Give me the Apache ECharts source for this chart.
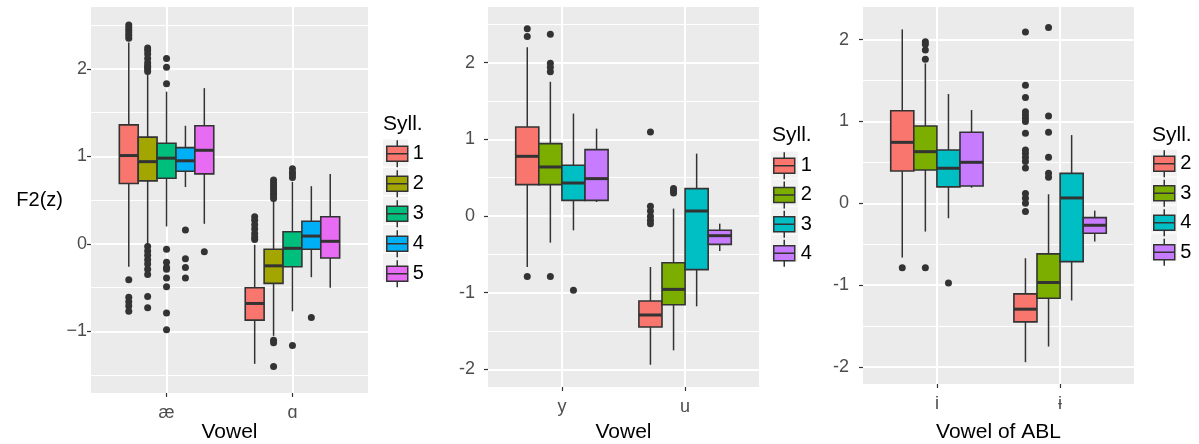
<!DOCTYPE html>
<html>
<head>
<meta charset="utf-8">
<script src="https://cdn.jsdelivr.net/npm/echarts@6/dist/echarts.min.js"></script>
<style>
html,body{margin:0;padding:0;background:#fff;}
#chart{width:1199px;height:444px;}
</style>
</head>
<body>
<div id="chart"></div>
<script>
// ---------------- DATA ----------------
// Box stats per category: [lower whisker, Q1, median, Q3, upper whisker]
// Panel 1: vowels æ / ɑ, syllable 1..5
const p1Categories = ['æ', 'ɑ'];
const p1Groups = ['1', '2', '3', '4', '5'];
const p1Yticks = [-1, 0, 1, 2];
const p1Box1 = [[-0.26, 0.69, 1.01, 1.36, 2.30], [-1.37, -0.87, -0.68, -0.50, -0.01]];
const p1Box2 = [[0.00, 0.72, 0.94, 1.22, 1.93], [-1.05, -0.45, -0.25, -0.06, 0.50]];
const p1Box3 = [[0.20, 0.75, 0.98, 1.15, 1.74], [-0.77, -0.26, -0.05, 0.14, 0.71]];
const p1Box4 = [[0.65, 0.83, 0.95, 1.10, 1.35], [-0.38, -0.06, 0.09, 0.26, 0.66]];
const p1Box5 = [[0.23, 0.80, 1.07, 1.35, 1.78], [-0.50, -0.16, 0.03, 0.31, 0.80]];
// Outliers per category
const p1Out1 = [[2.50, 2.47, 2.44, 2.41, 2.38, 2.35, -0.41, -0.61, -0.66, -0.71, -0.77], [0.31, 0.27, 0.22, 0.17, 0.12, 0.08, 0.05]];
const p1Out2 = [[2.24, 2.21, 2.17, 2.12, 2.07, 2.04, 2.02, 2.00, 1.97, -0.03, -0.08, -0.13, -0.18, -0.23, -0.29, -0.35, -0.60, -0.73], [0.73, 0.70, 0.67, 0.64, 0.61, 0.58, 0.55, 0.52, -1.10, -1.13, -1.40]];
const p1Out3 = [[2.12, 2.02, 1.83, -0.06, -0.21, -0.27, -0.29, -0.39, -0.49, -0.79, -0.98], [0.86, 0.82, 0.79, 0.76, -1.16]];
const p1Out4 = [[0.16, -0.17, -0.27, -0.39], [-0.84]];
const p1Out5 = [[-0.09], []];

// Panel 2: vowels y / u, syllable 1..4
const p2Categories = ['y', 'u'];
const p2Groups = ['1', '2', '3', '4'];
const p2Yticks = [-2, -1, 0, 1, 2];
const p2Box1 = [[-0.665, 0.409, 0.778, 1.161, 2.20], [-1.94, -1.448, -1.291, -1.109, -0.665]];
const p2Box2 = [[-0.348, 0.409, 0.639, 0.943, 1.75], [-1.752, -1.157, -0.957, -0.609, 0.096]];
const p2Box3 = [[-0.187, 0.204, 0.43, 0.661, 1.335], [-1.178, -0.70, 0.065, 0.357, 0.813]];
const p2Box4 = [[0.183, 0.204, 0.487, 0.865, 1.139], [-0.457, -0.37, -0.257, -0.187, -0.10]];
const p2Out1 = [[2.44, 2.34, -0.79], [1.096, 0.126, 0.065, -0.004, -0.057, -0.10]];
const p2Out2 = [[2.37, 1.99, 1.94, 1.88, -0.79], [0.357, 0.33, 0.30]];
const p2Out3 = [[-0.97], []];
const p2Out4 = [[], []];

// Panel 3: vowels of ABL i / ɨ, syllable 2..5
const p3Categories = ['i', 'ɨ'];
const p3Groups = ['2', '3', '4', '5'];
const p3Yticks = [-2, -1, 0, 1, 2];
const p3Box2 = [[-0.664, 0.395, 0.745, 1.132, 2.126], [-1.943, -1.45, -1.295, -1.108, -0.672]];
const p3Box3 = [[-0.346, 0.407, 0.631, 0.945, 1.71], [-1.752, -1.161, -0.969, -0.619, 0.11]];
const p3Box4 = [[-0.183, 0.20, 0.428, 0.652, 1.336], [-1.189, -0.713, 0.065, 0.366, 0.834]];
const p3Box5 = [[0.19, 0.212, 0.501, 0.868, 1.14], [-0.468, -0.367, -0.269, -0.175, -0.09]];
const p3Out2 = [[-0.79], [2.095, 1.444, 1.294, 1.12, 1.08, 1.04, 1.00, 0.855, 0.65, 0.61, 0.56, 0.51, 0.43, 0.12, 0.06, 0.00, -0.10]];
const p3Out3 = [[1.976, 1.943, 1.874, 1.76, -0.79], [2.149, 1.066, 0.867, 0.562, 0.366, 0.317]];
const p3Out4 = [[-0.974], []];
const p3Out5 = [[], []];

// ---------------- STYLE / LAYOUT ----------------
const FONT = "'Liberation Sans', Arial, Helvetica, sans-serif";
const colors5 = ['#F8766D', '#A3A500', '#00BF7D', '#00B0F6', '#E76BF3'];
const colors4 = ['#F8766D', '#7CAE00', '#00BFC4', '#C77CFF'];
const DODGE = 0.75;

const panels = [
  { cats: p1Categories, groups: p1Groups, colors: colors5, yticks: p1Yticks,
    boxes: [p1Box1, p1Box2, p1Box3, p1Box4, p1Box5], outs: [p1Out1, p1Out2, p1Out3, p1Out4, p1Out5],
    grid: { left: 91, top: 7, width: 277, height: 386 }, ymin: -1.703, ymax: 2.707,
    minus: '\u2212', ylabMargin: 4, xname: 'Vowel', xnameGap: 29, yname: 'F2(z)',
    legend: { left: 386, top: 139.5, w: 21, gap: 1.5, bg: 383 }, title: { left: 383, top: 114 } },
  { cats: p2Categories, groups: p2Groups, colors: colors4, yticks: p2Yticks,
    boxes: [p2Box1, p2Box2, p2Box3, p2Box4], outs: [p2Out1, p2Out2, p2Out3, p2Out4],
    grid: { left: 488, top: 7, width: 271, height: 380 }, ymin: -2.23, ymax: 2.725,
    minus: '-', ylabMargin: 13, xname: 'Vowel', xnameGap: 35, yname: '',
    legend: { left: 773, top: 151.5, w: 23, gap: 0.7, bg: 771 }, title: { left: 772, top: 125 } },
  { cats: p3Categories, groups: p3Groups, colors: colors4, yticks: p3Yticks,
    boxes: [p3Box2, p3Box3, p3Box4, p3Box5], outs: [p3Out2, p3Out3, p3Out4, p3Out5],
    grid: { left: 863, top: 7, width: 271, height: 377 }, ymin: -2.21, ymax: 2.40,
    minus: '-', ylabMargin: 14, xname: 'Vowel of ABL', xnameGap: 38, yname: '',
    legend: { left: 1153, top: 149.5, w: 22, gap: 1, bg: 1151 }, title: { left: 1152, top: 125 } }
];

function makeBoxRenderer(boxW, color) {
  return function (params, api) {
    const x = api.value(0);
    const w = api.size([boxW, 0])[0];
    const lo = api.coord([x, api.value(1)]);
    const q1 = api.coord([x, api.value(2)]);
    const md = api.coord([x, api.value(3)]);
    const q3 = api.coord([x, api.value(4)]);
    const hi = api.coord([x, api.value(5)]);
    const cx = q1[0];
    const stroke = '#333333';
    return {
      type: 'group',
      children: [
        { type: 'line', shape: { x1: cx, y1: lo[1], x2: cx, y2: q1[1] }, style: { stroke: stroke, lineWidth: 1.5 } },
        { type: 'line', shape: { x1: cx, y1: q3[1], x2: cx, y2: hi[1] }, style: { stroke: stroke, lineWidth: 1.5 } },
        { type: 'rect', shape: { x: cx - w / 2, y: q3[1], width: w, height: q1[1] - q3[1] },
          style: { fill: color, stroke: stroke, lineWidth: 1.6 } },
        { type: 'line', shape: { x1: cx - w / 2, y1: md[1], x2: cx + w / 2, y2: md[1] }, style: { stroke: stroke, lineWidth: 3 } }
      ]
    };
  };
}

const legendIcon = 'path://M10.5,0L10.5,6M0,6L21,6L21,21L0,21ZM0,13.5L21,13.5M10.5,21L10.5,27';

const grids = [], xAxes = [], yAxes = [], series = [], legends = [], titles = [], graphics = [];

panels.forEach((p, pi) => {
  grids.push(Object.assign({ show: true, backgroundColor: '#EBEBEB', borderWidth: 0, outerBoundsMode: 'none', containLabel: false }, p.grid));
  const minorVals = [];
  for (let v = Math.ceil(p.ymin) - 0.5; v < p.ymax; v += 1) if (v > p.ymin) minorVals.push(v);
  xAxes.push({
    type: 'value', gridIndex: pi, min: 0.4, max: 2.6, position: 'bottom',
    axisLine: { show: false, onZero: false },
    axisTick: { show: true, length: 4, customValues: [1, 2], lineStyle: { color: '#333333', width: 1.2 } },
    axisLabel: { customValues: [1, 2], formatter: v => p.cats[Math.round(v) - 1], color: '#4D4D4D', fontSize: 18, margin: 11, fontFamily: FONT },
    splitLine: { show: true, lineStyle: { color: '#FFFFFF', width: 2 } },
    name: p.xname, nameLocation: 'middle', nameGap: p.xnameGap, nameMoveOverlap: false,
    nameTextStyle: { color: '#000', fontSize: 21, fontFamily: FONT }
  });
  yAxes.push({
    type: 'value', gridIndex: pi, min: p.ymin, max: p.ymax, position: 'left',
    axisLine: { show: false, onZero: false },
    axisTick: { show: true, length: 4, customValues: p.yticks, lineStyle: { color: '#333333', width: 1.2 } },
    axisLabel: { customValues: p.yticks, formatter: v => (v < 0 ? p.minus + Math.abs(v) : String(v)), color: '#4D4D4D', fontSize: 18, margin: p.ylabMargin, fontFamily: FONT },
    splitLine: { show: true, lineStyle: { color: '#FFFFFF', width: 2 } },
    name: p.yname, nameLocation: 'middle', nameRotate: 0, nameGap: 28, nameMoveOverlap: false,
    nameTextStyle: { color: '#000', fontSize: 20, fontFamily: FONT }
  });
  yAxes.push({
    type: 'value', gridIndex: pi, min: p.ymin, max: p.ymax, position: 'left',
    axisLine: { show: false, onZero: false }, axisLabel: { show: false },
    axisTick: { show: false, customValues: minorVals },
    splitLine: { show: true, lineStyle: { color: '#FFFFFF', width: 1 } }
  });
  const n = p.groups.length;
  const w = DODGE / n;
  p.groups.forEach((g, gi) => {
    const off = (gi - (n - 1) / 2) * w;
    series.push({
      type: 'custom', name: g, xAxisIndex: pi, yAxisIndex: pi * 2,
      itemStyle: { color: p.colors[gi] },
      renderItem: makeBoxRenderer(w, p.colors[gi]),
      encode: { x: 0, y: [1, 2, 3, 4, 5] },
      data: p.boxes[gi].map((s, ci) => [ci + 1 + off].concat(s)),
      z: 2, silent: true
    });
    const pts = [];
    p.outs[gi].forEach((arr, ci) => arr.forEach(v => pts.push([ci + 1 + off, v])));
    series.push({
      type: 'scatter', xAxisIndex: pi, yAxisIndex: pi * 2, data: pts,
      symbol: 'circle', symbolSize: 7, itemStyle: { color: '#333333', opacity: 1 },
      z: 3, silent: true
    });
  });
  legends.push({
    orient: 'vertical', left: p.legend.left, top: p.legend.top, padding: 0,
    itemWidth: p.legend.w, itemHeight: 27, itemGap: p.legend.gap, icon: legendIcon,
    selectedMode: false,
    data: p.groups.map((g, gi) => ({ name: g, itemStyle: { color: p.colors[gi] } })),
    itemStyle: { borderColor: '#333333', borderWidth: 1.5 },
    textStyle: { color: '#000', fontSize: 20, fontFamily: FONT }
  });
  titles.push({
    text: 'Syll.', left: p.title.left, top: p.title.top, padding: 0,
    textStyle: { color: '#000', fontSize: 21, fontWeight: 'normal', fontFamily: FONT }
  });
  p.groups.forEach((g, gi) => {
    graphics.push({
      type: 'rect', left: p.legend.bg, top: p.legend.top + gi * (27 + p.legend.gap), z: 0,
      shape: { width: p.legend.w + 4, height: 27 }, style: { fill: '#F2F2F2' }
    });
  });
});

const chart = echarts.init(document.getElementById('chart'), null, { renderer: 'canvas' });
chart.setOption({
  animation: false,
  backgroundColor: '#FFFFFF',
  textStyle: { fontFamily: FONT },
  title: titles,
  legend: legends,
  grid: grids,
  xAxis: xAxes,
  yAxis: yAxes,
  graphic: graphics,
  series: series
});
</script>
</body>
</html>
